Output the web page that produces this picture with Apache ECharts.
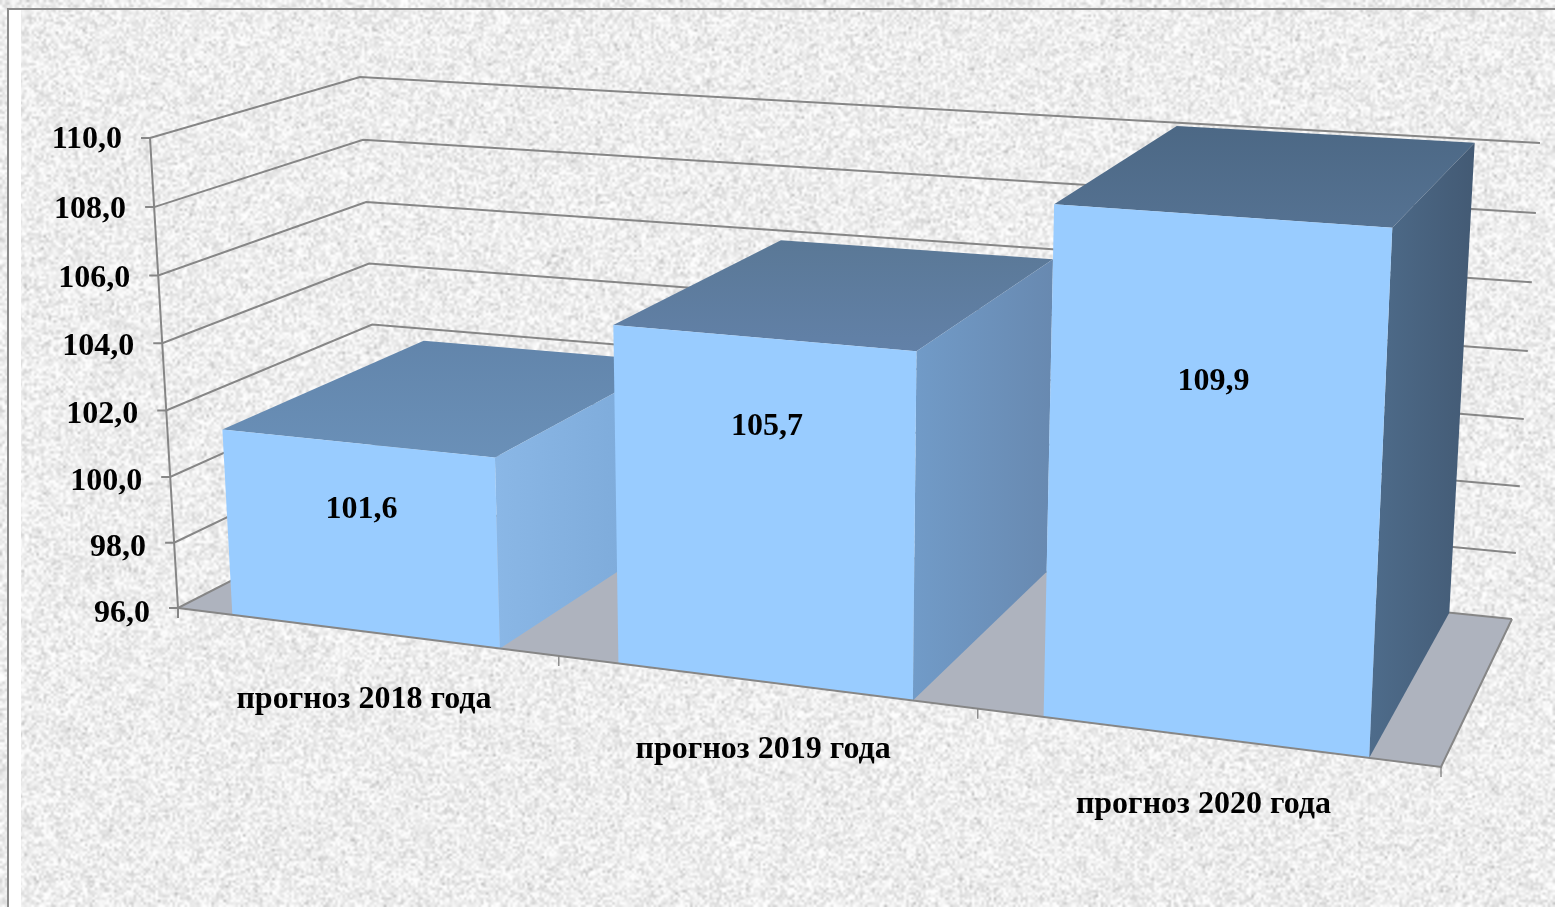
<!DOCTYPE html>
<html><head><meta charset="utf-8">
<style>html,body{margin:0;padding:0;width:1555px;height:907px;overflow:hidden}#c{width:1555px;height:907px}</style>
<script src="https://cdn.jsdelivr.net/npm/echarts@6/dist/echarts.min.js"></script>
</head><body><div id="c"></div>
<script>
// ---- data ----
const categories = ['прогноз 2018 года', 'прогноз 2019 года', 'прогноз 2020 года'];
const values = [101.6, 105.7, 109.9];
const yTicks = [96, 98, 100, 102, 104, 106, 108, 110];

// ---- layout of the 3D box (floor and ceiling quads: FL, FR, BR, BL) ----
const FLOOR = [[178,608],[1441,767],[1512,619],[381,504]];
const CEIL  = [[150,138],[1467,229],[1540,143],[360,77]];
const U_WARP = 1.075, V_WARP = 0.967;    // perspective correction along width and height
const LABEL_RISE = [0.65, 0.747, 0.688]; // height of value label inside the bar front
const LABEL_DU = [0.002, 0.0035, -0.001];
const BAR_FRACTION = 0.703;
const TOPS  = [['#6285ab','#6a90b8'],['#5a7896','#6281a8'],['#4c6885','#557292']];
const SIDES = [['#8ab7e6','#7aa7d6'],['#719bc8','#6889b0'],['#4e6c8b','#435a74']];
const FRONT = '#99CCFF', FLOORC = '#AEB3BE', LINE = '#868686', INK = '#000';
const FONT = '"Liberation Serif","Times New Roman",serif';

function homography(q){
  const [[x0,y0],[x1,y1],[x2,y2],[x3,y3]] = q;
  const dx1=x1-x2, dx2=x3-x2, sx=x0-x1+x2-x3, dy1=y1-y2, dy2=y3-y2, sy=y0-y1+y2-y3;
  const den=dx1*dy2-dx2*dy1, g=(sx*dy2-dx2*sy)/den, h=(dx1*sy-sx*dy1)/den;
  const a=x1-x0+g*x1, b=x3-x0+h*x3, d=y1-y0+g*y1, e=y3-y0+h*y3;
  return (u,w)=>{const k=g*u+h*w+1; return [(a*u+b*w+x0)/k,(d*u+e*w+y0)/k];};
}
const hFloor = homography(FLOOR), hCeil = homography(CEIL);
const warp=(t,m)=>t*m/(1+(m-1)*t);
function project(u0,v0,w){
  const u=warp(u0,U_WARP), v=warp(v0,V_WARP);
  const p=hFloor(u,w), q=hCeil(u,w);
  return [p[0]+(q[0]-p[0])*v, p[1]+(q[1]-p[1])*v];
}
// normalised height of a value, through the axis scale
function norm(api,params,val){
  const cs=params.coordSys, py=api.coord([0,val])[1];
  return (cs.y+cs.height-py)/cs.height;
}
const poly=(pts,fill)=>({type:'polygon',shape:{points:pts},style:{fill:fill},silent:true});
const pl=(pts,w)=>({type:'polyline',shape:{points:pts},style:{stroke:LINE,lineWidth:w||2,fill:'none'},silent:true});
const txt=(x,y,s,align,size)=>({type:'text',style:{x:x,y:y,text:s,fill:INK,font:'bold '+size+'px '+FONT,align:align,verticalAlign:'middle'},silent:true});
const grad=(c,x1,y1,x2,y2)=>new echarts.graphic.LinearGradient(x1,y1,x2,y2,[{offset:0,color:c[0]},{offset:1,color:c[1]}]);

function renderFloor(params,api){
  if(params.dataIndex!==0) return;
  return {type:'group',children:[poly([project(0,0,0),project(1,0,0),project(1,0,1),project(0,0,1)],FLOORC)]};
}
function renderTick(params,api){
  const val=api.value(1), v=norm(api,params,val);
  const a=project(0,v,0), b=project(0,v,1), c=project(1,v,1);
  const s=val.toFixed(1).replace('.',',');
  return {type:'group',children:[
    pl([[a[0]-9,a[1]],a,b,c]),
    txt(a[0]-28,a[1]+6-(val-96)/14*4,s,'right',32)
  ]};
}
function renderBar(params,api){
  const i=api.value(0), val=api.value(1), cs=params.coordSys;
  const cx=(api.coord([i,val])[0]-cs.x)/cs.width, band=api.size([1,0])[0]/cs.width;
  const u0=cx-band*BAR_FRACTION/2, u1=cx+band*BAR_FRACTION/2, t=norm(api,params,val);
  const A=project(u0,0,0),B=project(u1,0,0),C=project(u1,t,0),D=project(u0,t,0);
  const E=project(u1,0,1),F=project(u1,t,1),G=project(u0,t,1);
  const L=project(cx+LABEL_DU[i],LABEL_RISE[i]*t,0);
  return {type:'group',children:[
    poly([D,C,F,G],grad(TOPS[i],0,0,0,1)),
    poly([B,E,F,C],grad(SIDES[i],0,0,1,0)),
    poly([A,B,C,D],FRONT),
    txt(L[0],L[1],String(val).replace('.',','),'center',32)
  ]};
}
function renderAxis(params,api){
  const i=api.value(0), cs=params.coordSys;
  const cx=(api.coord([i,0])[0]-cs.x)/cs.width, band=api.size([1,0])[0]/cs.width;
  const kids=[];
  const e=project(cx+band/2,0,0), c=project(cx,0,0);
  kids.push(pl([[e[0],e[1]],[e[0],e[1]+10]],1.4));
  kids.push(txt(c[0],c[1]+68,categories[i],'center',32));
  if(i===0){
    const a=project(0,0,0), b=project(1,0,0), d=project(1,0,1);
    kids.push(pl([a,b,d]));
    kids.push(pl([project(0,1,0),[a[0],a[1]],[a[0],a[1]+10]]));
  }
  return {type:'group',children:kids};
}

// decorative stone texture (seeded, not data)
function stone(){
  let s=20180419; const r=()=>{s=(s*1664525+1013904223)>>>0;return s/4294967296;};
  const w=640,h=374,lo=document.createElement('canvas');lo.width=w;lo.height=h;
  const x=lo.getContext('2d'),im=x.createImageData(w,h);
  for(let i=0;i<w*h;i++){
    let n=r()+r()-1; let g=238+n*32; if(r()<0.03) g-=24;
    g=Math.max(190,Math.min(253,g));
    im.data[i*4]=im.data[i*4+1]=im.data[i*4+2]=g; im.data[i*4+3]=255;
  }
  x.putImageData(im,0,0);
  const c=document.createElement('canvas');c.width=1555;c.height=907;
  const y=c.getContext('2d');y.imageSmoothingEnabled=true;y.imageSmoothingQuality='high';
  y.drawImage(lo,0,0,1555,907);
  return c;
}
document.body.style.background='url('+stone().toDataURL()+')';

const chart=echarts.init(document.getElementById('c'),null,{width:1555,height:907});
chart.setOption({
  animation:false,backgroundColor:'transparent',tooltip:{show:false},
  graphic:[
    {type:'rect',z:-1,shape:{x:9,y:10,width:12,height:897},style:{fill:'#fff'},silent:true},
    {type:'polyline',z:-1,shape:{points:[[8,907],[8,9],[1555,9]]},style:{stroke:'#8c8c8c',lineWidth:2,fill:'none'},silent:true}
  ],
  grid:{left:178,right:114,top:138,bottom:299,containLabel:false},
  xAxis:{type:'category',data:categories,show:false,boundaryGap:true},
  yAxis:{type:'value',min:96,max:110,interval:2,show:false},
  series:[
    {type:'custom',name:'floor',renderItem:renderFloor,data:yTicks.map(t=>[0,t]),clip:false,silent:true,z:1},
    {type:'custom',name:'grid',renderItem:renderTick,data:yTicks.map(t=>[0,t]),clip:false,silent:true,z:2},
    {type:'custom',name:'bars',renderItem:renderBar,data:values.map((v,i)=>[i,v]),clip:false,silent:true,z:3},
    {type:'custom',name:'axis',renderItem:renderAxis,data:categories.map((c,i)=>[i,96]),clip:false,silent:true,z:4}
  ]
});
</script></body></html>
